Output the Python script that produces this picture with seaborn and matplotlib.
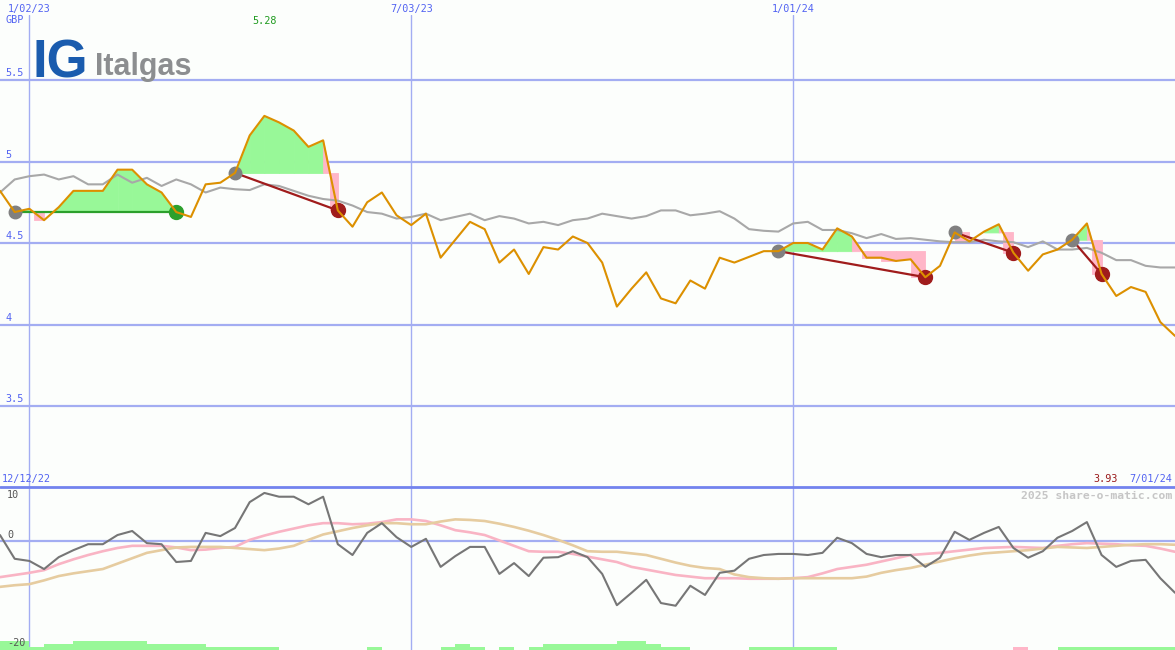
import numpy as np
import pandas as pd
import matplotlib
matplotlib.use('Agg')
import matplotlib.pyplot as plt
import matplotlib.dates as mdates
import seaborn as sns

# weekly closes, Italgas (GBP), 19 Dec 2022 .. 1 Jul 2024
dates = pd.date_range('2022-12-19', periods=81, freq='7D')
price = [4.82, 4.69, 4.71, 4.64, 4.72, 4.82, 4.82, 4.82, 4.95, 4.95,
         4.86, 4.81, 4.69, 4.66, 4.86, 4.87, 4.93, 5.16, 5.28, 5.24,
         5.19, 5.09, 5.13, 4.70, 4.60, 4.75, 4.81, 4.67, 4.61, 4.68,
         4.41, 4.52, 4.63, 4.585, 4.38, 4.46, 4.31, 4.475, 4.46, 4.54,
         4.50, 4.38, 4.11, 4.22, 4.32, 4.16, 4.13, 4.27, 4.22, 4.41,
         4.38, 4.415, 4.45, 4.45, 4.50, 4.50, 4.46, 4.59, 4.54, 4.41,
         4.41, 4.39, 4.40, 4.29, 4.36, 4.565, 4.51, 4.57, 4.615, 4.44,
         4.33, 4.43, 4.46, 4.52, 4.62, 4.31, 4.175, 4.23, 4.20, 4.015,
         3.93]
avg = [4.81, 4.89, 4.91, 4.92, 4.89, 4.91, 4.86, 4.86, 4.92, 4.87,
       4.90, 4.85, 4.89, 4.86, 4.81, 4.84, 4.83, 4.825, 4.86, 4.85,
       4.82, 4.79, 4.77, 4.76, 4.73, 4.69, 4.68, 4.65, 4.66, 4.68,
       4.64, 4.66, 4.68, 4.64, 4.665, 4.65, 4.62, 4.63, 4.61, 4.64,
       4.65, 4.68, 4.665, 4.65, 4.665, 4.70, 4.70, 4.67, 4.68, 4.695,
       4.65, 4.585, 4.575, 4.57, 4.62, 4.63, 4.58, 4.58, 4.56, 4.53,
       4.555, 4.525, 4.53, 4.52, 4.51, 4.505, 4.505, 4.52, 4.51, 4.505,
       4.475, 4.51, 4.46, 4.46, 4.47, 4.44, 4.395, 4.395, 4.36, 4.35,
       4.35]
momentum = [1.1, -3.3, -3.7, -5.2, -3.0, -1.7, -0.6, -0.6, 1.1, 1.85,
            -0.4, -0.6, -3.9, -3.7, 1.5, 0.9, 2.4, 7.2, 8.9, 8.2,
            8.2, 6.8, 8.2, -0.6, -2.6, 1.5, 3.3, 0.7, -1.1, 0.4,
            -4.8, -2.8, -1.1, -1.1, -6.1, -4.1, -6.5, -3.1, -3.0, -1.9,
            -3.0, -6.1, -11.9, -9.6, -7.2, -11.5, -12.0, -8.3, -10.0, -5.9,
            -5.5, -3.3, -2.6, -2.4, -2.4, -2.6, -2.2, 0.6, -0.4, -2.4,
            -3.0, -2.6, -2.6, -4.8, -3.1, 1.7, 0.2, 1.5, 2.6, -1.3,
            -3.1, -1.9, 0.6, 1.85, 3.5, -2.6, -4.8, -3.7, -3.5, -6.9,
            -9.6]
mom_fast = [-6.7, -6.3, -5.9, -5.4, -4.3, -3.4, -2.6, -1.9, -1.3, -0.9,
            -0.9, -0.9, -1.2, -1.7, -1.6, -1.3, -1.1, 0.2, 1.0, 1.7,
            2.3, 2.9, 3.3, 3.3, 3.1, 3.2, 3.5, 4.0, 4.0, 3.7,
            2.9, 2.0, 1.6, 1.1, 0.1, -0.9, -1.9, -2.0, -2.0, -2.4,
            -2.9, -3.4, -3.9, -4.8, -5.3, -5.8, -6.3, -6.6, -6.9, -6.9,
            -6.9, -7.0, -7.0, -7.0, -6.9, -6.7, -6.0, -5.2, -4.8, -4.4,
            -3.8, -3.2, -2.6, -2.4, -2.2, -1.9, -1.6, -1.3, -1.2, -1.1,
            -1.2, -1.3, -0.9, -0.6, -0.4, -0.5, -0.6, -0.8, -0.9, -1.4,
            -2.0]
mom_slow = [-8.5, -8.2, -8.0, -7.3, -6.5, -6.0, -5.6, -5.2, -4.2, -3.2,
            -2.2, -1.7, -1.2, -1.1, -1.1, -1.1, -1.3, -1.5, -1.7, -1.4,
            -0.9, 0.2, 1.2, 1.8, 2.4, 2.9, 3.3, 3.3, 3.1, 3.1,
            3.6, 4.0, 3.9, 3.7, 3.2, 2.6, 1.9, 1.1, 0.2, -0.8,
            -1.9, -2.0, -2.0, -2.3, -2.6, -3.3, -4.0, -4.6, -5.0, -5.2,
            -6.2, -6.7, -6.9, -7.0, -6.9, -6.9, -6.9, -6.9, -6.9, -6.6,
            -5.9, -5.4, -5.0, -4.4, -3.8, -3.2, -2.7, -2.3, -2.1, -1.9,
            -1.7, -1.4, -1.1, -1.2, -1.3, -1.1, -0.9, -0.7, -0.6, -0.6,
            -0.7]
# weekly signal strength bars (one per week interval)
signal = [3, 3, 1, 2, 2, 3, 3, 3, 3, 3, 2, 2, 2, 2, 1, 1, 1, 1, 1, 0,
          0, 0, 0, 0, 0, 1, 0, 0, 0, 0, 1, 2, 1, 0, 1, 0, 1, 2, 2, 2,
          2, 2, 3, 3, 2, 1, 1, 0, 0, 0, 0, 1, 1, 1, 1, 1, 1, 0, 0, 0,
          0, 0, 0, 0, 0, 0, 0, 0, 0, -1, 0, 0, 1, 1, 1, 1, 1, 1, 1, 1]
trades = [(1, 12), (16, 23), (53, 63), (65, 69), (73, 75)]
grid_dates = ['2023-01-02', '2023-07-03', '2024-01-01']
price_ticks = [3.5, 4, 4.5, 5, 5.5]
mom_ticks = [10, 0, -20]

BG = '#fcfefc'
GRID = '#a3adf2'
BLUE = '#5263f2'
GREEN = '#98f898'
PINK = '#ffb6c8'
ORANGE = '#dc9000'
LOSS = '#a01c1c'
WIN = '#2ca02c'

def fmt(d):
    return f'{d.month}/{d.day:02d}/{d:%y}'

sns.set_style('white')
plt.rcParams['font.family'] = ['DejaVu Sans Mono']

W, H = 1175, 650
fig = plt.figure(figsize=(W / 100, H / 100), dpi=100)
fig.patch.set_facecolor(BG)
ax = fig.add_axes([0, (H - 487) / H, 1, (487 - 15) / H])
ax2 = fig.add_axes([0, 0, 1, (650 - 487) / H])

x = mdates.date2num(dates)
df = pd.DataFrame({'x': x, 'price': price, 'avg': avg, 'mom': momentum,
                   'fast': mom_fast, 'slow': mom_slow})
gx = mdates.date2num(pd.to_datetime(grid_dates))
p = np.array(price)

for a in (ax, ax2):
    a.set_facecolor(BG)
    a.set_xlim(x[0], x[-1])
    for s in a.spines.values():
        s.set_visible(False)
    a.set_axisbelow(True)

# ---- price panel
ax.set_ylim(3.003, 5.899)
ax.set_xticks(gx)
ax.set_xticklabels([fmt(pd.Timestamp(d)) for d in grid_dates])
ax.xaxis.set_ticks_position('top')
ax.tick_params(axis='x', length=0, pad=1, labelsize=7.3, labelcolor=BLUE)
ax.set_yticks(price_ticks)
ax.tick_params(axis='y', left=False, labelleft=False)
ax.grid(axis='x', color=GRID, lw=1)
ax.grid(axis='y', color=GRID, lw=1.6)
for v in price_ticks:
    ax.annotate(f'{v:g}', xy=(0, v), xycoords=ax.get_yaxis_transform(),
                xytext=(5, 2), textcoords='offset pixels', ha='left', va='bottom',
                fontsize=7.3, color=BLUE)

# trade shading
fill_kw = dict(lw=0.6, antialiased=False)
for i0, i1 in trades:
    e = p[i0]
    for i in range(i0, i1):
        xa, xb, pa, pb = x[i], x[i + 1], p[i], p[i + 1]
        if pb >= e:
            ax.fill_between([xa, xb], e, [pa, pb], where=[pa >= e, True],
                            interpolate=True, color=GREEN, **fill_kw)
        else:
            xc = xa
            if pa > e:
                xc = xa + (xb - xa) * (pa - e) / (pa - pb)
                ax.fill_between([xa, xc], e, [pa, e], color=PINK, **fill_kw)
            ax.fill_between([xc, xb], e, pb, color=PINK, **fill_kw)

sns.lineplot(data=df, x='x', y='avg', ax=ax, color='#a8a8a8', lw=1.5)
for i0, i1 in trades:
    c = WIN if p[i1] >= p[i0] else LOSS
    ax.plot([x[i0], x[i1]], [p[i0], p[i1]], color=c, lw=1.6, zorder=3)
    ax.plot(x[i0], p[i0], 'o', color='#808080', ms=9, zorder=4)
    ax.plot(x[i1], p[i1], 'o', color=c, ms=10, zorder=4)
sns.lineplot(data=df, x='x', y='price', ax=ax, color=ORANGE, lw=1.5, zorder=5)
ax.set_xlabel('')
ax.set_ylabel('')

imax = int(np.argmax(p))
ax.annotate(f'{p[imax]:.2f}', xy=(x[imax], 1), xycoords=ax.get_xaxis_transform(),
            xytext=(0, -1), textcoords='offset pixels', ha='center', va='top',
            fontsize=7.3, color='#1e9a1e')

# ---- indicator panel
ax2.set_ylim(-20.2, 10)
ax2.set_xticks(gx)
ax2.tick_params(axis='x', bottom=False, labelbottom=False)
ax2.set_yticks([])
ax2.grid(axis='x', color=GRID, lw=1)
ax2.axhline(0, color=GRID, lw=1.6, zorder=1)
ax2.axhline(10, color='#7383ee', lw=2, clip_on=False, zorder=6)

lvl = np.array(signal)
ax2.bar(x[:-1], np.abs(lvl) * 0.58, width=7, align='edge', bottom=-20.2,
        color=[GREEN if v > 0 else PINK for v in lvl], lw=0, antialiased=False)
sns.lineplot(data=df, x='x', y='fast', ax=ax2, color='#f9b4c4', lw=1.9)
sns.lineplot(data=df, x='x', y='slow', ax=ax2, color='#e6cca0', lw=1.9)
sns.lineplot(data=df, x='x', y='mom', ax=ax2, color='#767676', lw=1.5)
ax2.set_xlabel('')
ax2.set_ylabel('')
for v in mom_ticks:
    top = v == mom_ticks[0]
    ax2.annotate(f'{v:g}', xy=(0, v), xycoords=ax2.get_yaxis_transform(),
                 xytext=(7, -3 if top else 1), textcoords='offset pixels',
                 ha='left', va='top' if top else 'bottom', fontsize=7.3, color='#555555')

# ---- texts
def ftext(px, py, s, **kw):
    fig.text(px / W, 1 - py / H, s, **kw)

ftext(5, 20, 'GBP', fontsize=7.3, color=BLUE, va='center')
ftext(2, 479, '12/12/22', fontsize=7.3, color=BLUE, va='center')
ftext(1172, 479, fmt(dates[-1]), fontsize=7.3, color=BLUE, va='center', ha='right')
ftext(1118, 479, f'{p[-1]:.2f}', fontsize=7.3, color='#9a1a1a', va='center', ha='right')
ftext(1172, 496, '2025 share-o-matic.com', fontsize=8.2, color='#c6c6c6',
      weight='bold', va='center', ha='right')
ftext(33, 77, 'IG', fontsize=38, color='#1a5cae', weight='bold',
      family='Liberation Sans', va='baseline')
ftext(95, 75, 'Italgas', fontsize=22, color='#8c8e90', weight='bold',
      family='Liberation Sans', va='baseline')

fig.savefig('out.png', dpi=100, facecolor=BG)
